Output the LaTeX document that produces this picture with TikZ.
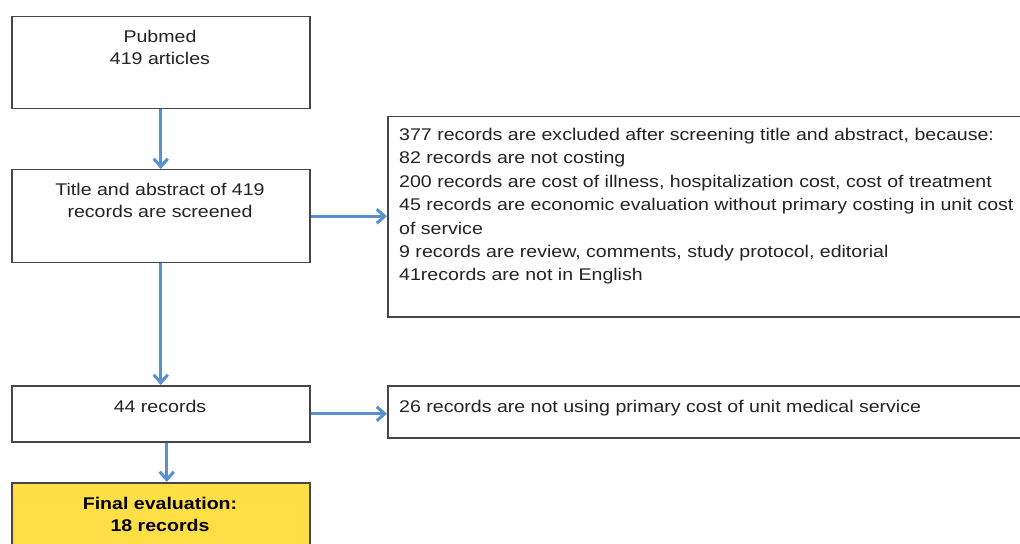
\documentclass[tikz,border=0pt]{standalone}
\usepackage{fontspec}
\setmainfont{Liberation Sans}[FakeStretch=1.155]
\usetikzlibrary{arrows.meta,calc}
\definecolor{arrowblue}{RGB}{88,144,210}
\definecolor{boxline}{RGB}{70,70,70}
\definecolor{txt}{RGB}{35,35,35}
\definecolor{finalyellow}{RGB}{255,222,70}
\begin{document}
\begin{tikzpicture}[x=1bp,y=-1bp,
  box/.style={draw=boxline,line width=1.5bp,fill=white,rectangle,inner sep=0,anchor=north west},
  txtnode/.style={inner sep=0,text=txt,font=\fontsize{17}{22.5}\selectfont},
  flow/.style={draw=arrowblue,line width=3bp,-{Straight Barb[length=8bp,width=14bp]}}]
\path[use as bounding box, clip] (0,0) rectangle (1020,544);
\fill[white] (0,0) rectangle (1020,544);

\node[box,minimum width=298bp,minimum height=92bp] (b1) at (11,16) {};
\node[box,minimum width=298bp,minimum height=93bp] (b2) at (11,169) {};
\node[box,minimum width=700bp,minimum height=200bp] (b3) at (387,116) {};
\node[box,minimum width=298bp,minimum height=56bp] (b4) at (11,385) {};
\node[box,minimum width=700bp,minimum height=52bp] (b5) at (387,385) {};
\node[box,fill=finalyellow,minimum width=298bp,minimum height=100bp] (b6) at (11,482) {};

% anchor=base is the baseline of the last line
\node[txtnode,anchor=base,align=center] (t1) at (160,65) {Pubmed\\419 articles};
\node[txtnode,anchor=base,align=center] (t2) at (160,218) {Title and abstract of 419\\records are screened};
\node[txtnode,anchor=base west,align=left,font=\fontsize{17}{23.5}\selectfont] (t3) at (399,281) {377 records are excluded after screening title and abstract, because:\\82 records are not costing\\200 records are cost of illness, hospitalization cost, cost of treatment\\45 records are economic evaluation without primary costing in unit cost\\of service\\9 records are review, comments, study protocol, editorial\\41records are not in English};
\node[txtnode,anchor=base,align=center] (t4) at (160,412) {44 records};
\node[txtnode,anchor=base west] (t5) at (399,412) {26 records are not using primary cost of unit medical service};
\node[txtnode,anchor=base,align=center,text=black,font=\fontsize{17}{22}\selectfont\bfseries] (t6) at (160,531) {Final evaluation:\\18 records};

\coordinate (a5s) at ($(b4.south)+(6,0)$);
\coordinate (a5e) at (a5s |- b6.north);
\draw[flow] (b1.south) -- (b2.north);
\draw[flow] (b2.east) -- (b2.east -| b3.west);
\draw[flow] (b2.south) -- (b4.north);
\draw[flow] (b4.east) -- (b4.east -| b5.west);
\draw[flow] (a5s) -- (a5e);
\end{tikzpicture}
\end{document}
